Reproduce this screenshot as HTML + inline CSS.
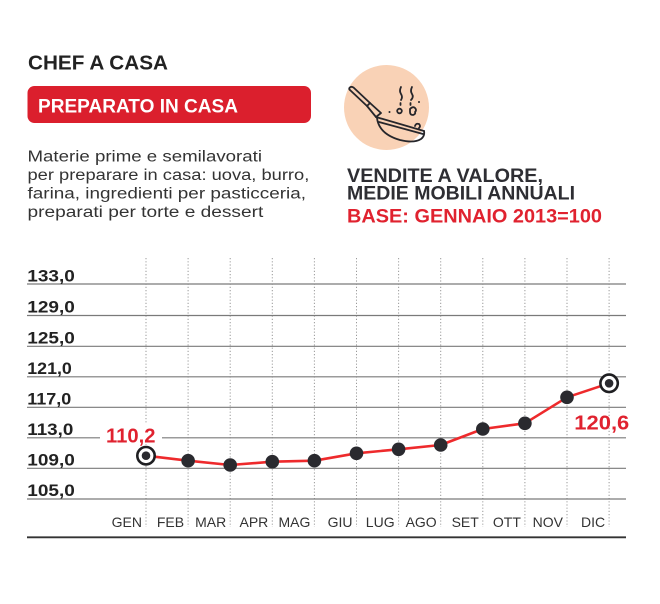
<!DOCTYPE html>
<html><head><meta charset="utf-8"><style>
html,body{margin:0;padding:0;background:#fff;}
svg{display:block;}
text{font-family:"Liberation Sans",sans-serif;}
</style></head><body>
<svg width="660" height="604" viewBox="0 0 660 604" xmlns="http://www.w3.org/2000/svg">
<rect width="660" height="604" fill="#fff"/>
<!-- Header -->
<text x="28" y="69.5" font-size="20" font-weight="bold" fill="#222" textLength="140" lengthAdjust="spacingAndGlyphs">CHEF A CASA</text>
<rect x="27.5" y="86" width="283.5" height="37" rx="7" fill="#db1f2d"/>
<text x="38" y="112.3" font-size="19" font-weight="bold" fill="#fff" textLength="200" lengthAdjust="spacingAndGlyphs">PREPARATO IN CASA</text>
<g font-size="15.5" fill="#333">
<text x="27.5" y="161.7" textLength="234.5" lengthAdjust="spacingAndGlyphs">Materie prime e semilavorati</text>
<text x="27.5" y="180.2" textLength="281.8" lengthAdjust="spacingAndGlyphs">per preparare in casa: uova, burro,</text>
<text x="27.5" y="198.7" textLength="278.5" lengthAdjust="spacingAndGlyphs">farina, ingredienti per pasticceria,</text>
<text x="27.5" y="217" textLength="235.8" lengthAdjust="spacingAndGlyphs">preparati per torte e dessert</text>
</g>
<!-- Icon -->
<circle cx="386.5" cy="107.5" r="42.5" fill="#f9d2b6"/>
<g fill="none" stroke="#26262b" stroke-width="1.8" stroke-linecap="round" stroke-linejoin="round">
<path d="M350.5,90.5 L367,106 L370,103 L353.5,87.5 Q351,86 349.5,87.8 Q348.7,89.3 350.5,90.5 Z"/>
<path d="M367,106 L376,117 L381,113 L370,103"/>
<path d="M376,117 L424,131"/>
<path d="M377,118 Q379,134 400,140 Q414,143.5 421,139 Q425,136 424,131"/>
<path d="M379,122 L423,134"/>
<path d="M401,87 Q399,91 401,94 Q403,97 401,100 M400.5,103 L400.5,105"/>
<path d="M412,87 Q410,91 412,94 Q414,97 411,100 M410.5,103 L410.5,105"/>
<circle cx="399.5" cy="111" r="2.3"/>
<path d="M410,109 Q413,106 415,108 Q417,110 415,112 Q416,114 413,115 Q410,115 410,112 Z"/>
<path d="M415,126 Q416,123 419,124 Q421,126 419,128"/>
</g>
<g fill="#26262b">
<circle cx="389.5" cy="112" r="1"/>
<circle cx="419" cy="102" r="1"/>
</g>
<text x="347" y="182" font-size="19" font-weight="bold" fill="#2e2e33" textLength="196" lengthAdjust="spacingAndGlyphs">VENDITE A VALORE,</text>
<text x="347" y="199.5" font-size="19" font-weight="bold" fill="#2e2e33" textLength="228" lengthAdjust="spacingAndGlyphs">MEDIE MOBILI ANNUALI</text>
<text x="347" y="222.5" font-size="19" font-weight="bold" fill="#e0222f" textLength="255" lengthAdjust="spacingAndGlyphs">BASE: GENNAIO 2013=100</text>

<!-- Grid -->
<g stroke="#9a9a9a" stroke-width="1" stroke-dasharray="1.2,2">
<line x1="146" y1="258" x2="146" y2="527"/>
<line x1="188.1" y1="258" x2="188.1" y2="527"/>
<line x1="230.2" y1="258" x2="230.2" y2="527"/>
<line x1="272.3" y1="258" x2="272.3" y2="527"/>
<line x1="314.4" y1="258" x2="314.4" y2="527"/>
<line x1="356.5" y1="258" x2="356.5" y2="527"/>
<line x1="398.6" y1="258" x2="398.6" y2="527"/>
<line x1="440.7" y1="258" x2="440.7" y2="527"/>
<line x1="482.8" y1="258" x2="482.8" y2="527"/>
<line x1="524.9" y1="258" x2="524.9" y2="527"/>
<line x1="567" y1="258" x2="567" y2="527"/>
<line x1="609.1" y1="258" x2="609.1" y2="527"/>
</g>
<g stroke="#7a7a7a" stroke-width="1.2">
<line x1="27" y1="284" x2="626" y2="284"/>
<line x1="27" y1="315.5" x2="626" y2="315.5"/>
<line x1="27" y1="346.3" x2="626" y2="346.3"/>
<line x1="27" y1="376.8" x2="626" y2="376.8"/>
<line x1="27" y1="407.3" x2="626" y2="407.3"/>
<line x1="27" y1="437.8" x2="626" y2="437.8"/>
<line x1="27" y1="468.3" x2="626" y2="468.3"/>
<line x1="27" y1="499" x2="626" y2="499"/>
</g>
<line x1="27" y1="537.3" x2="626" y2="537.3" stroke="#333" stroke-width="1.8"/>

<g font-size="17" font-weight="bold" fill="#222">
<text x="27.3" y="281.5" textLength="47.5" lengthAdjust="spacingAndGlyphs">133,0</text>
<text x="27.3" y="312.5" textLength="47.5" lengthAdjust="spacingAndGlyphs">129,0</text>
<text x="27.3" y="343.3" textLength="47.5" lengthAdjust="spacingAndGlyphs">125,0</text>
<text x="27.3" y="373.8" textLength="44.5" lengthAdjust="spacingAndGlyphs">121,0</text>
<text x="27.3" y="404.3" textLength="44" lengthAdjust="spacingAndGlyphs">117,0</text>
<text x="27.3" y="434.8" textLength="46" lengthAdjust="spacingAndGlyphs">113,0</text>
<text x="27.3" y="465.3" textLength="47.5" lengthAdjust="spacingAndGlyphs">109,0</text>
<text x="27.3" y="495.8" textLength="47.5" lengthAdjust="spacingAndGlyphs">105,0</text>
</g>

<g font-size="14" fill="#333" text-anchor="end">
<text x="142" y="527">GEN</text>
<text x="184.1" y="527">FEB</text>
<text x="226.2" y="527">MAR</text>
<text x="268.3" y="527">APR</text>
<text x="310.4" y="527">MAG</text>
<text x="352.5" y="527">GIU</text>
<text x="394.6" y="527">LUG</text>
<text x="436.7" y="527">AGO</text>
<text x="478.8" y="527">SET</text>
<text x="520.9" y="527">OTT</text>
<text x="563" y="527">NOV</text>
<text x="605.1" y="527">DIC</text>
</g>

<!-- label bg -->
<rect x="100" y="424" width="62" height="20" fill="#fff"/>
<text x="106" y="442.3" font-size="20" font-weight="bold" fill="#e0222f" textLength="49.5" lengthAdjust="spacingAndGlyphs">110,2</text>
<text x="574.3" y="429.5" font-size="20" font-weight="bold" fill="#e0222f" textLength="55" lengthAdjust="spacingAndGlyphs">120,6</text>

<!-- series -->
<polyline fill="none" stroke="#ee2a2c" stroke-width="2.6" stroke-linejoin="round" points="146,455.7 188.1,460.7 230.2,465 272.3,461.7 314.4,460.7 356.5,453.3 398.6,449.3 440.7,445 482.8,429 524.9,423.3 567,397.3 609.1,383.3"/>
<g fill="#2a2a2f">
<circle cx="188.1" cy="460.7" r="6.8"/>
<circle cx="230.2" cy="465" r="6.8"/>
<circle cx="272.3" cy="461.7" r="6.8"/>
<circle cx="314.4" cy="460.7" r="6.8"/>
<circle cx="356.5" cy="453.3" r="6.8"/>
<circle cx="398.6" cy="449.3" r="6.8"/>
<circle cx="440.7" cy="445" r="6.8"/>
<circle cx="482.8" cy="429" r="6.8"/>
<circle cx="524.9" cy="423.3" r="6.8"/>
<circle cx="567" cy="397.3" r="6.8"/>
</g>
<circle cx="146" cy="455.7" r="8.7" fill="#fff" stroke="#1f1f22" stroke-width="2.6"/>
<circle cx="146" cy="455.7" r="4.3" fill="#2a2a2f"/>
<circle cx="609.1" cy="383.3" r="8.7" fill="#fff" stroke="#1f1f22" stroke-width="2.6"/>
<circle cx="609.1" cy="383.3" r="4.3" fill="#2a2a2f"/>
</svg>
</body></html>
